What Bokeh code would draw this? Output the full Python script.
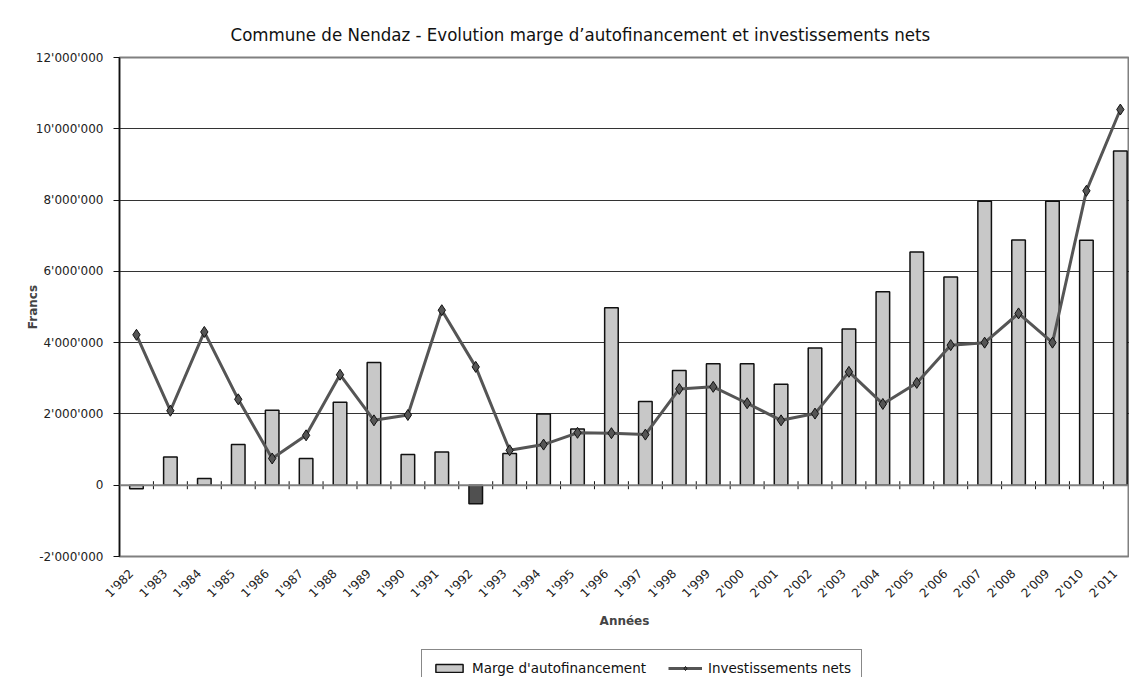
import math
from bokeh.plotting import figure
from bokeh.layouts import column
from bokeh.models import Range1d, FixedTicker, Span, Legend, LegendItem, CustomJSTickFormatter
from bokeh.embed import file_html
from bokeh.resources import INLINE

# ---- data ----
year_labels = ["1'982", "1'983", "1'984", "1'985", "1'986", "1'987", "1'988", "1'989",
               "1'990", "1'991", "1'992", "1'993", "1'994", "1'995", "1'996", "1'997",
               "1'998", "1'999", "2'000", "2'001", "2'002", "2'003", "2'004", "2'005",
               "2'006", "2'007", "2'008", "2'009", "2'010", "2'011"]
marge = [-100000, 790000, 190000, 1140000, 2100000, 750000, 2330000, 3440000,
         860000, 930000, -520000, 890000, 2000000, 1580000, 4980000, 2350000,
         3220000, 3410000, 3410000, 2830000, 3850000, 4380000, 5430000, 6540000,
         5840000, 7970000, 6880000, 7970000, 6870000, 9380000]
invest = [4220000, 2090000, 4300000, 2410000, 750000, 1400000, 3100000, 1820000,
          1970000, 4910000, 3320000, 980000, 1140000, 1470000, 1460000, 1420000,
          2700000, 2760000, 2300000, 1820000, 2010000, 3180000, 2280000, 2870000,
          3930000, 4000000, 4820000, 4000000, 8260000, 10540000]
y_ticks = [-2000000, 0, 2000000, 4000000, 6000000, 8000000, 10000000, 12000000]
highlight_label = "1'992"
legend_labels = ["Marge d'autofinancement", "Investissements nets"]

title_txt = "Commune de Nendaz - Evolution marge d\u2019autofinancement et investissements nets"

n = len(year_labels)
xs = list(range(n))

FONT = "DejaVu Sans"
NARROW = "DejaVu Sans Condensed, Roboto, sans-serif"

BAR_FILL, BAR_DARK, EDGE, LINE_C = "#c8c8c8", "#505050", "#111111", "#555555"

FRAME_W, FRAME_H = 1010, 499
p = figure(frame_width=FRAME_W, frame_height=FRAME_H, output_backend="svg", toolbar_location=None,
           x_range=Range1d(-0.5, 29.27), y_range=Range1d(y_ticks[0], y_ticks[-1]),
           min_border_left=119, min_border_right=0, min_border_top=57, min_border_bottom=90)
p.background_fill_color = "white"
p.border_fill_color = "white"
p.outline_line_color = "#808080"
p.outline_line_width = 2

# title
p.title.text = title_txt
p.title.align = "left"
p.title.offset = 111
p.title.standoff = 25
p.title.text_font = NARROW
p.title.text_font_size = "18.5px"
p.title.text_font_style = "normal"
p.title.text_color = "#111111"

# grid
p.xgrid.grid_line_color = None
p.ygrid.ticker = FixedTicker(ticks=y_ticks)
p.ygrid.grid_line_color = "#333333"
p.ygrid.grid_line_width = 1

# y axis
p.yaxis.ticker = FixedTicker(ticks=y_ticks)
p.yaxis.major_label_overrides = {t: f"{t:,}".replace(",", "'") for t in y_ticks}
p.yaxis.minor_tick_line_color = None
p.yaxis.major_tick_in = 0
p.yaxis.major_tick_out = 6
p.yaxis.axis_line_color = EDGE
p.yaxis.axis_line_width = 1.5
p.yaxis.major_tick_line_color = EDGE
p.yaxis.major_label_text_font = FONT
p.yaxis.major_label_text_font_size = "12px"
p.yaxis.major_label_text_color = "#222222"
p.yaxis.major_label_standoff = 10
p.yaxis.axis_label = "Francs"
p.yaxis.axis_label_text_font = FONT
p.yaxis.axis_label_text_font_size = "12px"
p.yaxis.axis_label_text_font_style = "bold"
p.yaxis.axis_label_standoff = -7

# x axis (labels at bottom), labels slightly left of the category centre
shift = 0.15
p.xaxis.ticker = FixedTicker(ticks=[i - shift for i in xs])
p.xaxis.formatter = CustomJSTickFormatter(args=dict(labels=year_labels, shift=shift),
                                          code="return labels[Math.round(tick + shift)] || '';")
p.xaxis.major_label_orientation = math.pi / 4
p.xaxis.major_tick_in = 0
p.xaxis.major_tick_out = 0
p.xaxis.minor_tick_line_color = None
p.xaxis.axis_line_color = None
p.xaxis.major_label_text_font = FONT
p.xaxis.major_label_text_font_size = "12px"
p.xaxis.major_label_text_color = "#222222"
p.xaxis.major_label_standoff = 15
p.xaxis.axis_label = "Années"
p.xaxis.axis_label_text_font = FONT
p.xaxis.axis_label_text_font_size = "12px"
p.xaxis.axis_label_text_font_style = "bold"
p.xaxis.axis_label_standoff = 6

# zero axis line
p.add_layout(Span(location=0, dimension="width", line_color="#808080", line_width=2))

# bars
colors = [BAR_DARK if lab == highlight_label else BAR_FILL for lab in year_labels]
p.vbar(x=xs, top=marge, bottom=0, width=0.4, fill_color=colors,
       line_color=EDGE, line_width=1.5)

# category boundary ticks crossing the zero line
px_per_unit = FRAME_H / (y_ticks[-1] - y_ticks[0])
half = 4 / px_per_unit
bx = [i + 0.5 for i in range(n - 1)]
p.segment(x0=bx, x1=bx, y0=[-half] * len(bx), y1=[half] * len(bx),
          line_color=EDGE, line_width=1)

# line + markers
p.line(xs, invest, line_color=LINE_C, line_width=3)
p.scatter(xs, invest, marker="diamond", size=11, fill_color=LINE_C,
          line_color=EDGE, line_width=1)

# ---- legend strip below the chart (same series, drawn outside its visible range) ----
LEG_H = 60
q = figure(frame_width=FRAME_W + 119, frame_height=LEG_H, output_backend="svg",
           toolbar_location=None, x_axis_location=None, y_axis_location=None,
           x_range=Range1d(-200, -199), y_range=Range1d(0, 1),
           min_border_left=0, min_border_right=0, min_border_top=0, min_border_bottom=0)
q.grid.visible = False
q.outline_line_color = None
q.background_fill_color = "white"
q.border_fill_color = "white"
lb = q.vbar(x=xs, top=marge, bottom=0, width=0.4, fill_color=BAR_FILL,
            line_color=EDGE, line_width=1.5)
ll = q.line(xs, invest, line_color=LINE_C, line_width=3)
lp = q.scatter(xs, invest, marker="diamond", size=11, fill_color=LINE_C,
               line_color=EDGE, line_width=1)

legend = Legend(items=[LegendItem(label=legend_labels[0], renderers=[lb]),
                       LegendItem(label=legend_labels[1], renderers=[ll, lp])],
                orientation="horizontal", location=(421, 19))
legend.border_line_color = EDGE
legend.border_line_width = 1
legend.background_fill_color = "white"
legend.label_text_font = FONT
legend.label_text_font_size = "13.5px"
legend.label_text_color = "#111111"
legend.glyph_width = 34
legend.glyph_height = 10
legend.label_standoff = 6
legend.spacing = 22
legend.padding = 10
legend.margin = 0
q.add_layout(legend, "center")

open("out.html", "w").write(file_html(column(p, q, spacing=0), INLINE))
